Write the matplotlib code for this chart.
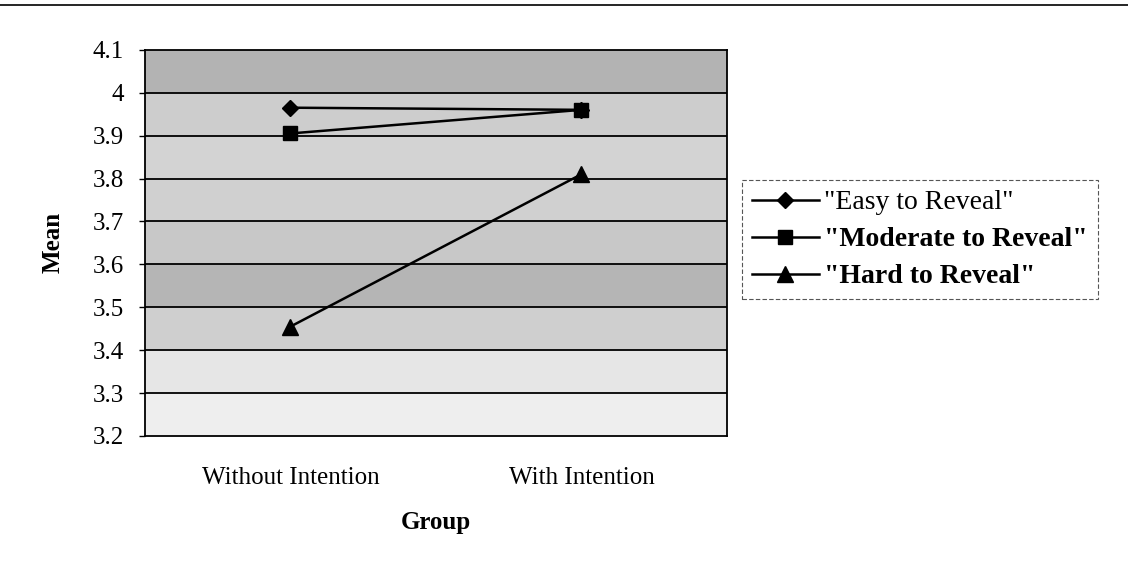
import numpy as np
import matplotlib.pyplot as plt
from matplotlib.lines import Line2D

plt.rcParams['font.family'] = ['Liberation Serif', 'DejaVu Serif']

# Data
groups = ["Without Intention", "With Intention"]
easy = [3.965, 3.96]
moderate = [3.905, 3.96]
hard = [3.455, 3.81]
series_names = ['"Easy to Reveal"', '"Moderate to Reveal"', '"Hard to Reveal"']
yticks = [3.2, 3.3, 3.4, 3.5, 3.6, 3.7, 3.8, 3.9, 4.0, 4.1]
ytick_labels = ["3.2", "3.3", "3.4", "3.5", "3.6", "3.7", "3.8", "3.9", "4", "4.1"]

# gray shade of each 0.1 band, bottom to top (scanned dither look)
band_shades = ['#eeeeee', '#e6e6e6', '#cfcfcf', '#b5b5b5', '#c8c8c8',
               '#d0d0d0', '#d3d3d3', '#cdcdcd', '#b3b3b3']

fig = plt.figure(figsize=(11.28, 5.68), dpi=100)
ax = fig.add_axes([0.1285, 0.2324, 0.516, 0.680])

for i, shade in enumerate(band_shades):
    ax.axhspan(yticks[i], yticks[i + 1], color=shade, zorder=0, lw=0)

x = np.arange(len(groups)) + 0.5
ax.plot(x, easy, color='black', lw=1.8, marker='D', markersize=8, label=series_names[0], zorder=3)
ax.plot(x, moderate, color='black', lw=1.8, marker='s', markersize=10, label=series_names[1], zorder=3)
ax.plot(x, hard, color='black', lw=1.8, marker='^', markersize=11, label=series_names[2], zorder=3)

ax.set_xlim(0, 2)
ax.set_ylim(3.2, 4.1)
ax.set_yticks(yticks)
ax.set_yticklabels(ytick_labels, fontsize=18)
ax.set_xticks(x)
ax.set_xticklabels(groups, fontsize=18)
ax.tick_params(axis='x', length=0, pad=22)
ax.tick_params(axis='y', length=4, width=1, direction='out', pad=11)
for yv in yticks[1:-1]:
    ax.axhline(yv, color='black', lw=1.3, zorder=1)
for s in ax.spines.values():
    s.set_linewidth(1.3)

ax.set_ylabel("Mean", fontsize=18, fontweight='bold', labelpad=20)
ax.set_xlabel("Group", fontsize=18, fontweight='bold', labelpad=16)

leg = fig.legend(loc='upper left', bbox_to_anchor=(0.658, 0.683), fontsize=20,
                 handlelength=2.4, handletextpad=0.2, borderpad=0.35,
                 labelspacing=0.42, fancybox=False, framealpha=1, borderaxespad=0)
leg.get_frame().set_edgecolor('#555555')
leg.get_frame().set_linestyle((0, (4, 2)))
leg.get_frame().set_linewidth(0.8)
for t in leg.get_texts()[1:]:
    t.set_fontweight('bold')

# page border line at the top
fig.add_artist(Line2D([0, 1], [0.992, 0.992], color='black', lw=1.2, transform=fig.transFigure))

fig.savefig("out.png", dpi=100)
